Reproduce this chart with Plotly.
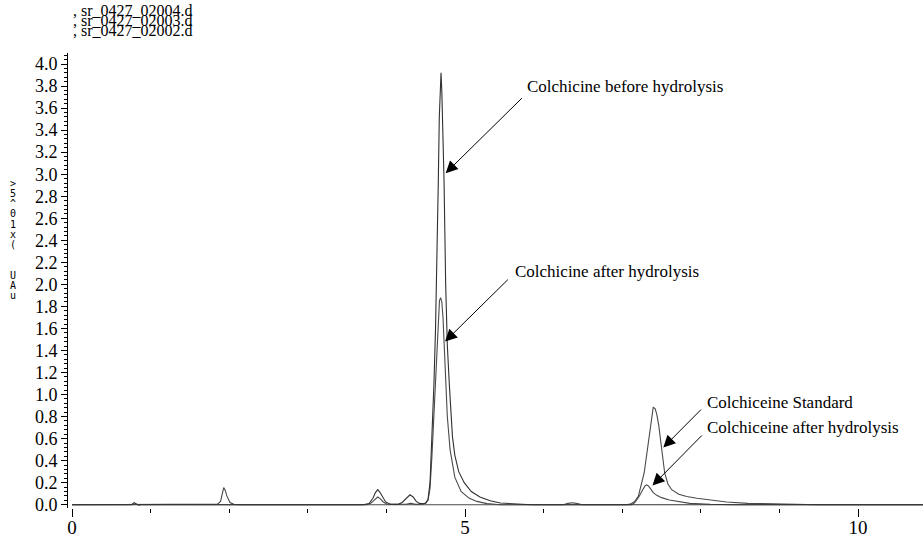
import plotly.graph_objects as go

# Retention time (min) and absorbance (x10^5 uAU) for each injection
t_02002 = [0, 0.70, 0.76, 0.79, 0.82, 0.85, 0.88, 0.95, 0.97, 1.0, 3.70, 3.78, 3.83, 3.86, 3.89, 3.92,
           3.95, 3.99, 4.05, 4.15, 4.20, 4.25, 4.30, 4.34, 4.38, 4.42, 4.47, 4.50, 4.53, 4.555, 4.58,
           4.605, 4.625, 4.645, 4.66, 4.673, 4.685, 4.695, 4.705, 4.715, 4.733, 4.754, 4.775, 4.80,
           4.84, 4.87, 4.92, 4.99, 5.08, 5.19, 5.32, 5.45, 5.64, 5.85, 6.3, 10.9]
a_02002 = [0, 0, 0, 0.018, 0.006, -0.004, 0, 0, 0.005, 0, 0, 0.01, 0.06, 0.11, 0.136, 0.11,
           0.07, 0.025, 0.004, 0.003, 0.02, 0.055, 0.09, 0.07, 0.03, 0.012, 0.008, 0.015, 0.05, 0.2, 0.6,
           1.1, 1.6, 2.2, 2.92, 3.52, 3.85, 3.92, 3.75, 3.45, 2.95, 2.0, 1.45, 1.1,
           0.62, 0.45, 0.3, 0.2, 0.12, 0.07, 0.035, 0.015, 0.005, 0.0, 0, 0]

t_02003 = [0, 3.75, 3.80, 3.84, 3.87, 3.89, 3.92, 3.96, 4.01, 4.25, 4.31, 4.37, 4.45, 4.50, 4.53,
           4.555, 4.58, 4.61, 4.635, 4.66, 4.675, 4.69, 4.705, 4.72, 4.733, 4.754, 4.775, 4.81, 4.87,
           4.95, 5.05, 5.15, 5.28, 5.45, 7.05, 7.12, 7.16, 7.215, 7.265, 7.29, 7.31, 7.33, 7.355,
           7.395, 7.44, 7.50, 7.60, 7.69, 7.86, 8.12, 8.4, 10.9]
a_02003 = [0, 0, 0.012, 0.04, 0.063, 0.07, 0.055, 0.025, 0.004, 0.004, 0.012, 0.003, 0.004, 0.012, 0.04,
           0.15, 0.45, 0.9, 1.35, 1.72, 1.85, 1.88, 1.84, 1.7, 1.45, 1.1, 0.8, 0.5, 0.25,
           0.12, 0.06, 0.03, 0.01, 0, 0, 0, 0.02, 0.075, 0.14, 0.17, 0.18, 0.172, 0.15,
           0.11, 0.085, 0.064, 0.042, 0.03, 0.012, 0.004, 0, 0]

t_02004 = [0, 1.80, 1.85, 1.89, 1.91, 1.93, 1.95, 1.97, 2.01, 2.06, 2.15, 6.25, 6.31, 6.37, 6.43, 6.49,
           7.05, 7.10, 7.16, 7.205, 7.28, 7.34, 7.37, 7.395, 7.42, 7.44, 7.465, 7.49, 7.54, 7.58, 7.63,
           7.72, 7.82, 7.95, 8.12, 8.33, 8.6, 9.1, 9.5, 10.9]
a_02004 = [0, 0, 0.005, 0.03, 0.09, 0.155, 0.13, 0.08, 0.02, 0.003, 0, 0, 0.012, 0.018, 0.01, 0,
           0, 0.005, 0.03, 0.075, 0.29, 0.59, 0.78, 0.886, 0.87, 0.82, 0.72, 0.59, 0.29, 0.19, 0.136,
           0.095, 0.075, 0.058, 0.045, 0.025, 0.012, 0.004, 0, 0]

file_names = [", sr_0427_02004.d", ", sr_0427_02003.d", ", sr_0427_02002.d"]

# Peak callouts: label, label anchor (x, y), arrow tail (x, y), arrow tip (x, y)
callouts = [
    ("Colchicine before hydrolysis", (5.763, 3.80), (5.742, 3.703), (4.754, 3.009)),
    ("Colchicine after hydrolysis", (5.61, 2.12), (5.564, 2.056), (4.746, 1.481)),
    ("Colchiceine Standard", (8.05, 0.925), (8.022, 0.877), (7.523, 0.519)),
    ("Colchiceine after hydrolysis", (8.05, 0.70), (8.032, 0.642), (7.385, 0.174)),
]

y_unit_chars = [">", "5", "^", "0", "1", "x", "(", "", "", "U", "A", "u"]

serif = "Liberation Serif"

fig = go.Figure()
for t, a, col in [(t_02004, a_02004, "#4a4a4a"), (t_02003, a_02003, "#4a4a4a"),
                  (t_02002, a_02002, "#303030")]:
    fig.add_trace(go.Scatter(x=t, y=a, mode="lines", line=dict(color=col, width=1.1),
                             showlegend=False, hoverinfo="skip"))

for label, (lx, ly), (ax, ay), (tx, ty) in callouts:
    fig.add_annotation(x=tx, y=ty, ax=ax, ay=ay, xref="x", yref="y", axref="x", ayref="y",
                       text="", showarrow=True, arrowhead=2, arrowsize=2.4, arrowwidth=1,
                       arrowcolor="black", standoff=0, startstandoff=0)
    fig.add_annotation(x=lx, y=ly, xref="x", yref="y", text=label, showarrow=False,
                       xanchor="left", yanchor="middle",
                       font=dict(family=serif, size=17, color="black"))

# file list above the plot
for i, name in enumerate(file_names):
    fig.add_annotation(x=0.004, y=1.093 - i * 0.022, xref="paper", yref="paper", text=name,
                       showarrow=False, xanchor="left", yanchor="middle",
                       font=dict(family=serif, size=16, color="black"))

# stacked unit characters beside the y axis
for i, ch in enumerate(y_unit_chars):
    if not ch:
        continue
    fig.add_annotation(x=-0.064, y=0.714 - i * 0.0225, xref="paper", yref="paper", text=ch,
                       showarrow=False, xanchor="center", yanchor="middle",
                       font=dict(family="DejaVu Sans Mono", size=10, color="black"))

fig.update_layout(
    width=923, height=537, autosize=False,
    margin=dict(l=68, r=0, t=53, b=29, pad=0),
    paper_bgcolor="white", plot_bgcolor="white",
    template="none",
    xaxis=dict(range=[-0.051, 10.827], showgrid=False, zeroline=False, showline=False,
               ticks="outside", tick0=0, dtick=5, ticklen=8, tickwidth=1, tickcolor="black",
               ticklabelstandoff=-6,
               minor=dict(ticks="outside", dtick=1, ticklen=4, tickwidth=1, tickcolor="black"),
               tickfont=dict(family=serif, size=19, color="black")),
    yaxis=dict(range=[-0.03, 4.1], showgrid=False, zeroline=False, showline=True,
               linecolor="black", linewidth=1, ticks="outside", tick0=0, dtick=0.2,
               ticklen=6, tickwidth=1, tickcolor="black", tickformat=".1f",
               minor=dict(ticks="outside", dtick=0.04, ticklen=3, tickwidth=1, tickcolor="black"),
               tickfont=dict(family=serif, size=18, color="black")),
)

fig.write_html("out.html")
